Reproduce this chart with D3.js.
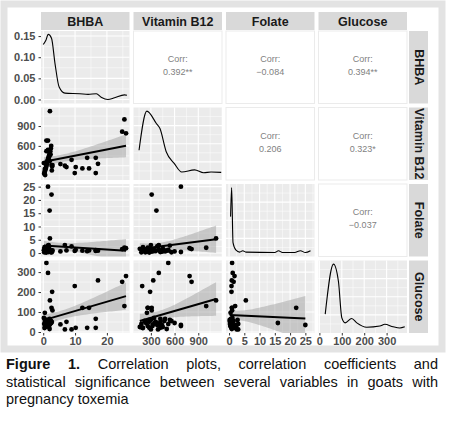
<!DOCTYPE html><html><head><meta charset="utf-8">
<script src="https://cdn.jsdelivr.net/npm/d3@7"></script>
<style>body{margin:0;background:#fff;font-family:"Liberation Sans",Arial,sans-serif}
#cap{position:absolute;left:6px;top:356px;width:432px;font-size:14.5px;line-height:17.5px;color:#111}
#cap .j{text-align:justify;text-align-last:justify;white-space:nowrap}</style></head><body>
<svg id="c" width="452" height="421" style="position:absolute;left:0;top:0"></svg>
<div id="cap"><div class="j"><b>Figure 1.</b> Correlation plots, correlation coefficients and</div><div class="j">statistical significance between several variables in goats with</div><div>pregnancy toxemia</div></div>
<script>
const vars=["BHBA","Vitamin B12","Folate","Glucose"];
// rows of goats: BHBA, Vitamin B12, Folate, Glucose
const bhba=[5.4,6.8,7.3,8.9,9.9,10.2,12.3,13.8,14.4,16.5,16.5,17.2,25.5,24.8,26,1.5,2.6,2.0,2.1,1.0,1.5,2.8,2.9,0.5,
 0.3,0.5,0.8,1.0,1.2,1.4,1.6,1.8,2.0,2.2,2.4,0.4,0.7,0.9,1.1,1.3,1.7,1.9,2.3,2.5,0.6,1.0,1.5,2.0,0.2,2.7];
const b12=[325,300,280,390,190,280,260,420,260,420,190,330,1000,815,790,680,310,370,1125,520,400,290,310,250,
 180,220,260,300,350,380,420,450,480,520,560,200,240,280,320,360,400,440,470,600,160,680,540,500,340,230];
const folate=[0.6,3.0,1.0,2.5,0.8,1.2,0.9,0.7,1.0,0.8,1.1,0.9,2.0,1.5,1.8,25,22,16,5.5,1.0,1.2,0.8,1.0,0.5,
 0.3,1.5,2.0,0.5,1.0,2.5,0.4,1.8,0.6,1.2,0.3,2.2,0.8,0.2,1.4,0.7,3.0,0.5,1.0,0.6,1.6,0.4,2.8,0.9,1.1,0.3];
const glucose=[38,13,51,13,230,21,121,21,121,66,21,258,130,251,280,35,121,45,158,346,296,201,108,96,
 40,55,30,60,45,35,50,25,65,40,55,20,45,60,30,50,40,35,55,45,25,30,60,15,70,50];
const dens={
 "BHBA":[[0,0.13],[0.84,0.14],[1.56,0.154],[2.6,0.145],[3.7,0.085],[5.0,0.0294],[6.8,0.015],[11.5,0.0136],[14.1,0.012],[16.7,0.0136],[18.2,0.0055],[20.3,0.0],[22.4,0.004],[25.5,0.011],[26.3,0.010]],
 "Vitamin B12":[[150,0.41],[249,0.95],[369,0.78],[415,0.71],[494,0.39],[595,0.23],[691,0.11],[853,0.14],[968,0.10],[1061,0.11],[1190,0.105]],
 "Folate":[[0.5,0.55],[0.85,0.95],[1.3,0.19],[2.2,0.09],[3.5,0.06],[4.5,0.08],[5.5,0.06],[15,0.055],[16.2,0.08],[17.5,0.055],[21.5,0.055],[23.4,0.08],[25,0.055],[26.7,0.08]],
 "Glucose":[[26,0.26],[63,0.95],[85,0.71],[100,0.21],[115,0.14],[144,0.2],[167,0.14],[211,0.08],[270,0.096],[292,0.12],[329,0.086],[359,0.07],[381,0.086]]
};
const corr={"0-1":"0.392**","0-2":"\u22120.084","0-3":"0.394**","1-2":"0.206","1-3":"0.323*","2-3":"\u22120.037"};
const xDom=[[-0.7,27.1],[80,1200],[-1,28],[-4,391]];
const yDom=[[-0.0095,0.162],[85,1180],[-1.3,26],[-5,358]];
const xTicks=[[0,10,20],[300,600,900],[0,5,10,15,20,25],[0,100,200,300]];
const yTicks=[[0,0.05,0.1,0.15],[300,600,900],[0,5,10,15,20,25],[0,100,200,300]];
const data=[bhba,b12,folate,glucose];

const svg=d3.select("#c");
svg.append("rect").attr("x",4).attr("y",4).attr("width",438).attr("height",345).attr("fill","#fff").attr("stroke","#e3e3e3").attr("stroke-width",7);
const L=41,PW=88.5,G=4,T=31,PH=72.5;
const px=j=>L+j*(PW+G), py=i=>T+i*(PH+G);
const xs=xDom.map((d,j)=>d3.scaleLinear().domain(d).range([px(j),px(j)+PW]));
const ys=yDom.map((d,i)=>d3.scaleLinear().domain(d).range([py(i)+PH,py(i)]));
vars.forEach((v,j)=>{
 svg.append("rect").attr("x",px(j)).attr("y",12).attr("width",PW).attr("height",18).attr("fill","#d9d9d9");
 svg.append("text").attr("x",px(j)+PW/2).attr("y",26).attr("text-anchor","middle").attr("font-size",12.5).attr("font-weight","bold").attr("fill","#1a1a1a").text(v);
 const cy=py(j)+PH/2, cx=px(3)+PW+3+9.5;
 svg.append("rect").attr("x",px(3)+PW+2).attr("y",py(j)).attr("width",19).attr("height",PH).attr("fill","#d9d9d9");
 svg.append("text").attr("transform",`translate(${cx-4.5},${cy}) rotate(90)`).attr("text-anchor","middle").attr("font-size",12.5).attr("font-weight","bold").attr("fill","#1a1a1a").text(v);
});
function grid(i,j,ysc){
 const g=svg.append("g");
 g.append("rect").attr("x",px(j)).attr("y",py(i)).attr("width",PW).attr("height",PH).attr("fill","#ebebeb");
 const xt=xTicks[j],step=xt[1]-xt[0];
 const minor=[];for(let v=xt[0]-step*3/2;v<=xt[xt.length-1]+step*2;v+=step/2)minor.push(v);
 minor.forEach(v=>{const X=xs[j](v);if(X>=px(j)&&X<=px(j)+PW)g.append("line").attr("x1",X).attr("x2",X).attr("y1",py(i)).attr("y2",py(i)+PH).attr("stroke","#fff").attr("stroke-width",xt.includes(v)?1.1:0.5);});
 if(ysc){const yt=yTicks[i],s=yt[1]-yt[0];const ym=[];for(let v=yt[0]-s*3/2;v<=yt[yt.length-1]+s*2;v+=s/2)ym.push(+v.toFixed(6));
 ym.forEach(v=>{const Y=ysc(v);if(Y>=py(i)&&Y<=py(i)+PH)g.append("line").attr("x1",px(j)).attr("x2",px(j)+PW).attr("y1",Y).attr("y2",Y).attr("stroke","#fff").attr("stroke-width",yt.some(t=>Math.abs(t-v)<1e-9)?1.1:0.5);});}
 else{[0.125,0.25,0.375,0.5,0.625,0.75,0.875].forEach((f,k)=>{const Y=py(i)+PH*f;g.append("line").attr("x1",px(j)).attr("x2",px(j)+PW).attr("y1",Y).attr("y2",Y).attr("stroke","#fff").attr("stroke-width",k%2?1.1:0.5);});}
}
for(let i=0;i<4;i++)for(let j=0;j<4;j++){
 if(j>i){
  svg.append("rect").attr("x",px(j)).attr("y",py(i)).attr("width",PW).attr("height",PH).attr("fill","#fff").attr("stroke","#ebebeb").attr("stroke-width",1);
  const cx=px(j)+PW/2,cy=py(i)+PH/2;
  svg.append("text").attr("x",cx).attr("y",cy-5).attr("text-anchor","middle").attr("font-size",9).attr("fill","#7f7f7f").text("Corr:");
  svg.append("text").attr("x",cx).attr("y",cy+8).attr("text-anchor","middle").attr("font-size",9).attr("fill","#7f7f7f").text(corr[i+"-"+j]);
 } else if(i==j){
  const d=dens[vars[i]];
  const ysc=i==0?ys[0]:d3.scaleLinear().domain([0,1]).range([py(i)+PH,py(i)]);
  grid(i,j,i==0?ys[0]:null);
  svg.append("path").attr("d",d3.line().curve(d3.curveMonotoneX).x(p=>xs[j](p[0])).y(p=>ysc(p[1]))(d)).attr("fill","none").attr("stroke","#000").attr("stroke-width",1.1);
 } else {
  grid(i,j,ys[i]);
  const X=data[j],Y=data[i],n=X.length,mx=d3.mean(X),my=d3.mean(Y);
  let sxx=0,sxy=0;X.forEach((x,k)=>{sxx+=(x-mx)**2;sxy+=(x-mx)*(Y[k]-my);});
  const b=sxy/sxx,a=my-b*mx;let sse=0;X.forEach((x,k)=>sse+=(Y[k]-a-b*x)**2);
  const s=Math.sqrt(sse/(n-2)),t=2.01;
  const [x0,x1]=d3.extent(X),pts=d3.range(0,41).map(k=>x0+(x1-x0)*k/40);
  const clipId="cl"+i+j;
  svg.append("clipPath").attr("id",clipId).append("rect").attr("x",px(j)).attr("y",py(i)).attr("width",PW).attr("height",PH);
  const g=svg.append("g").attr("clip-path",`url(#${clipId})`);
  g.append("path").attr("d",d3.area().x(x=>xs[j](x)).y0(x=>ys[i](a+b*x-t*s*Math.sqrt(1/n+(x-mx)**2/sxx))).y1(x=>ys[i](a+b*x+t*s*Math.sqrt(1/n+(x-mx)**2/sxx)))(pts)).attr("fill","#999").attr("opacity",0.45);
  X.forEach((x,k)=>g.append("circle").attr("cx",xs[j](x)).attr("cy",ys[i](Y[k])).attr("r",2.4).attr("fill","#000"));
  g.append("line").attr("x1",xs[j](x0)).attr("x2",xs[j](x1)).attr("y1",ys[i](a+b*x0)).attr("y2",ys[i](a+b*x1)).attr("stroke","#000").attr("stroke-width",2);
 }
}
for(let i=0;i<4;i++){
 svg.append("g").attr("transform",`translate(${L},0)`).call(d3.axisLeft(ys[i]).tickValues(yTicks[i]).tickSize(2.5).tickFormat(i==0?d3.format(".2f"):d3.format("d")))
  .call(g=>{g.select(".domain").remove();g.selectAll("text").attr("font-size",11).attr("font-weight","bold").attr("fill","#4d4d4d").attr("font-family","Liberation Sans,Arial");g.selectAll("line").attr("stroke","#333");});
}
for(let j=0;j<4;j++){
 svg.append("g").attr("transform",`translate(0,${py(3)+PH})`).call(d3.axisBottom(xs[j]).tickValues(xTicks[j]).tickSize(2.5).tickFormat(d3.format("d")))
  .call(g=>{g.select(".domain").remove();g.selectAll("text").attr("font-size",11).attr("font-weight","bold").attr("fill","#4d4d4d").attr("font-family","Liberation Sans,Arial").attr("dy","0.6em");g.selectAll("line").attr("stroke","#333");});
}
</script></body></html>
